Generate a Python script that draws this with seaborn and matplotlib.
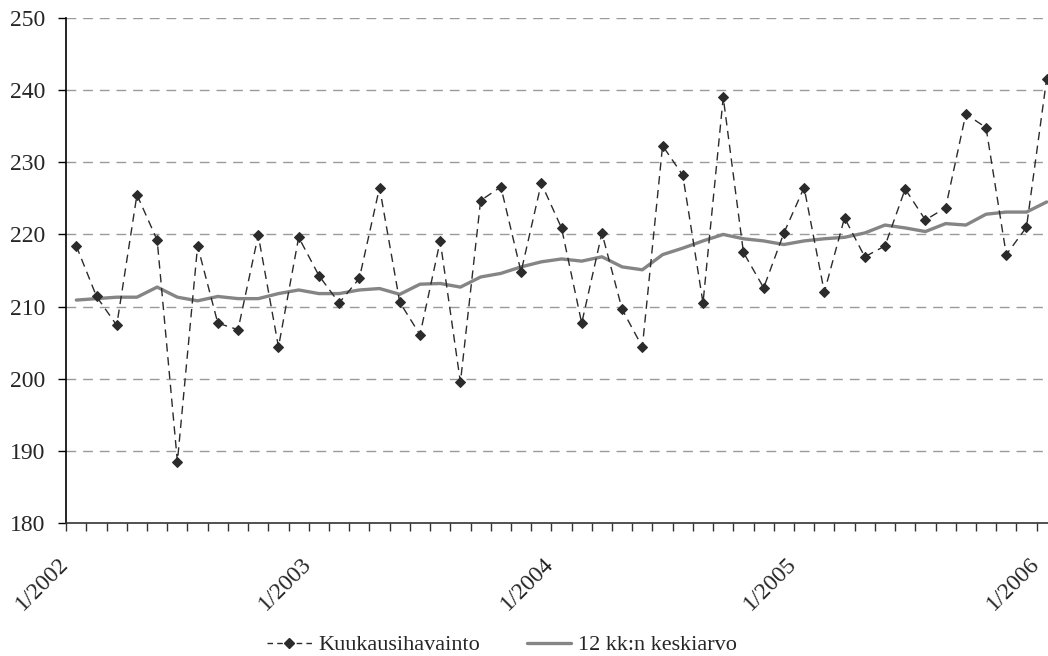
import matplotlib
matplotlib.use("Agg")
import matplotlib.pyplot as plt
import matplotlib.transforms as mtransforms
import seaborn as sns
import pandas as pd
from matplotlib.lines import Line2D

# Monthly observations 1/2002 - 1/2006
observed = [
    218.4, 211.4, 207.4, 225.5, 219.2, 188.5, 218.4, 207.7, 206.8, 219.9, 204.4, 219.6,
    214.3, 210.5, 213.9, 226.5, 210.6, 206.1, 219.1, 199.5, 224.7, 226.6, 214.8, 227.1,
    220.9, 207.7, 220.2, 209.6, 204.4, 232.3, 228.2, 210.5, 239.0, 217.5, 212.6, 220.2,
    226.5, 212.0, 222.3, 216.9, 218.4, 226.3, 222.0, 223.7, 236.7, 234.8, 217.2, 221.0,
    241.6,
]
# 12 month moving average
moving_avg = [
    210.9, 211.1, 211.3, 211.3, 212.7, 211.3, 210.8, 211.4, 211.1, 211.1, 211.8, 212.3,
    211.8, 211.8, 212.3, 212.5, 211.7, 213.1, 213.2, 212.7, 214.1, 214.6, 215.5, 216.2,
    216.6, 216.3, 216.9, 215.5, 215.1, 217.2, 218.1, 219.1, 220.0, 219.4, 219.1, 218.6,
    219.1, 219.4, 219.6, 220.2, 221.3, 220.9, 220.4, 221.5, 221.3, 222.8, 223.1, 223.1,
    224.5,
]
tick_labels = ["1/2002", "1/2003", "1/2004", "1/2005", "1/2006"]
label_names = ["Kuukausihavainto", "12 kk:n keskiarvo"]

df = pd.DataFrame({
    "month": range(len(observed)),
    "observed": observed,
    "moving_avg": moving_avg,
})

sns.set_style("white")
plt.rcParams["font.family"] = ["Liberation Serif", "DejaVu Serif"]

fig = plt.figure(figsize=(10.48, 6.56), dpi=100)
ax = fig.add_axes([66.2 / 1048, 1 - 523 / 656, (1056.8 - 66.2) / 1048, (523 - 18) / 656])

sns.lineplot(data=df, x="month", y="moving_avg", ax=ax, color="#858585",
             linewidth=2.4, zorder=3)
sns.lineplot(data=df, x="month", y="observed", ax=ax, color="#2b2b2b",
             linewidth=1.0, linestyle=(0, (6, 4)), marker="D", markersize=5.5,
             markeredgecolor="#2b2b2b", zorder=4)

ax.set_xlim(-0.5, len(observed) - 0.5)
ax.set_ylim(180, 250)
ax.set_yticks(range(180, 251, 10))
ax.set_xticks([i - 0.5 for i in range(len(observed) + 1)], minor=False)
ax.set_xticklabels([])
ax.set_xticks(range(0, len(observed), 12), minor=True)
ax.set_xticklabels(tick_labels, minor=True, rotation=45, ha="right",
                   rotation_mode="anchor", fontsize=17)
ax.tick_params(axis="x", which="major", direction="out", length=6, width=1,
               color="#333333", bottom=True)
ax.tick_params(axis="x", which="minor", length=0, pad=22)
ax.tick_params(axis="y", direction="out", length=6, width=1, color="black",
               left=True, labelsize=17, pad=9)

# nudge rotated labels to the left like the original
shift = mtransforms.ScaledTranslation(-18 / 100, 0, fig.dpi_scale_trans)
for lbl in ax.get_xticklabels(minor=True):
    lbl.set_transform(lbl.get_transform() + shift)

for v in range(190, 251, 10):
    ax.axhline(v, color="#9a9a9a", linewidth=1, linestyle=(0, (7, 5)), zorder=1)

for side in ["top", "right"]:
    ax.spines[side].set_visible(False)
ax.spines["left"].set_color("black")
ax.spines["left"].set_linewidth(1.2)
ax.spines["bottom"].set_color("#333333")
ax.spines["bottom"].set_linewidth(1.2)
ax.set_xlabel("")
ax.set_ylabel("")

handles = [
    Line2D([], [], color="#2b2b2b", linewidth=1.0, linestyle=(0, (4, 3)),
           marker="D", markersize=5),
    Line2D([], [], color="#858585", linewidth=2.4),
]
fig.legend(handles, label_names, loc="center", bbox_to_anchor=(502 / 1048, 1 - 645 / 656),
           ncol=2, frameon=False, fontsize=16, handlelength=2.0, columnspacing=2.1,
           handletextpad=0.3, borderpad=0)

fig.savefig("out.png", dpi=100)
